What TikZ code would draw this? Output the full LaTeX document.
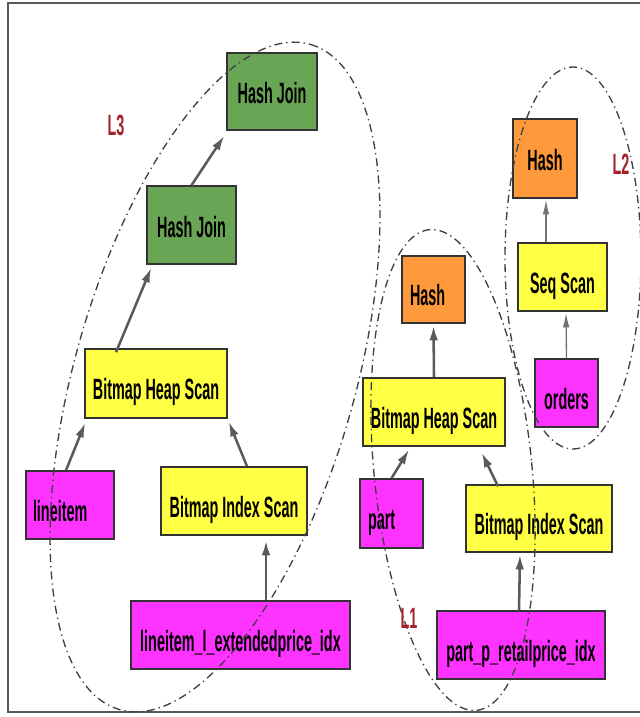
\documentclass[tikz,border=0pt]{standalone}
\usepackage{fontspec}
\setmainfont{Liberation Sans}[FakeStretch=0.49]
\usetikzlibrary{arrows.meta}

\definecolor{joingreen}{HTML}{6AA556}
\definecolor{hashorange}{HTML}{FF9A3C}
\definecolor{scanyellow}{HTML}{FFFF44}
\definecolor{relmagenta}{HTML}{FF33FF}
\definecolor{levelred}{HTML}{A3222A}
\definecolor{arrowgray}{HTML}{5A5A5A}

\begin{document}
\begin{tikzpicture}[x = 0.75pt, y = -0.75pt,
	opbox/.style = {draw = black!80, line width = 1.1pt, inner sep = 0pt,
					text height = 24pt, text depth = 0pt,
					font = \fontsize{22}{24}\selectfont\bfseries},
	joinbox/.style = {opbox, fill = joingreen, text height = 18pt},
	hashbox/.style = {opbox, fill = hashorange},
	scanbox/.style = {opbox, fill = scanyellow},
	relbox/.style = {opbox, fill = relmagenta},
	leftbox/.style = {align = left},
	flow/.style = {arrowgray, line width = 1.9pt,
				   -{Latex[length = 11pt, width = 6.5pt]}},
	thinflow/.style = {black!55, line width = 1pt,
					   -{Latex[length = 11pt, width = 5pt]}},
	level/.style = {black!75, line width = 1pt,
					dash pattern = on 6pt off 3pt on 1pt off 3pt},
	levelname/.style = {levelred, inner sep = 0pt,
						font = \fontsize{22}{24}\selectfont\bfseries},
	frame/.style = {black!65, line width = 1.3pt}]

	\useasboundingbox (0,0) rectangle (639,717);

	\draw[frame] (680,3) -- (8,3) -- (8,712) -- (680,712);

	% left tree (L3)
	\draw (272,91.5) node[joinbox,
						  minimum width = 67.5pt,
						  minimum height = 57.75pt] (hjtop) {Hash Join};

	\draw (191.5,225) node[joinbox,
						   minimum width = 66.75pt,
						   minimum height = 58.5pt] (hjmid) {Hash Join};

	\draw (156,383.5) node[scanbox,
						   minimum width = 106.5pt,
						   minimum height = 51.75pt] (bhsL) {Bitmap Heap Scan};

	\draw (70,505) node[relbox, leftbox,
						text width = 55.5pt,
						inner xsep = 5.25pt,
						minimum height = 51pt] (lineitem) {lineitem};

	\draw (234,501) node[scanbox,
						 minimum width = 109.5pt,
						 minimum height = 51pt] (bisL) {Bitmap Index Scan};

	\draw (240.5,635) node[relbox,
						   minimum width = 164.25pt,
						   minimum height = 51pt] (idxL) {lineitem\_l\_extendedprice\_idx};

	% middle tree (L1)
	\draw (433.5,289.5) node[hashbox, leftbox,
							 text width = 35.25pt,
							 inner xsep = 6pt,
							 minimum height = 50.25pt] (hashR) {Hash};

	\draw (434,412) node[scanbox,
						 minimum width = 106.5pt,
						 minimum height = 51pt] (bhsR) {Bitmap Heap Scan};

	\draw (391.5,513.5) node[relbox, leftbox,
							 text width = 35.25pt,
							 inner xsep = 6pt,
							 minimum height = 51.75pt] (part) {part};

	\draw (539,518.5) node[scanbox,
						   minimum width = 109.5pt,
						   minimum height = 50.25pt] (bisR) {Bitmap Index Scan};

	\draw (521,645) node[relbox,
						 minimum width = 126pt,
						 minimum height = 51pt] (idxR) {part\_p\_retailprice\_idx};

	% right tree (L2)
	\draw (545,158.5) node[hashbox,
						   text height = 18pt,
						   minimum width = 48pt,
						   minimum height = 59.25pt] (hashT) {Hash};

	\draw (562.5,277) node[scanbox,
						   minimum width = 66.75pt,
						   minimum height = 51pt] (seq) {Seq Scan};

	\draw (566.5,393) node[relbox,
						   minimum width = 47.25pt,
						   minimum height = 51pt] (orders) {orders};

	% arrows
	\draw[flow] (hjmid.north) -- ([shift = {(-2,5)}]hjtop.south west);
	\draw[flow] ([shift = {(-40,4)}]bhsL.north) -- ([shift = {(5,3)}]hjmid.south west);
	\draw[flow] ([shift = {(-4,0)}]lineitem.north) -- ([shift = {(1,4)}]bhsL.south west);
	\draw[flow] ([shift = {(13,0)}]bisL.north) -- ([shift = {(1,3)}]bhsL.south east);
	\draw[flow] ([shift = {(25.5,0)}]idxL.north) -- ([shift = {(32,5)}]bisL.south);

	\draw[flow] (bhsR.north) -- ([shift = {(0,2)}]hashR.south);
	\draw[flow] (part.north) -- ([shift = {(-25,3)}]bhsR.south);
	\draw[flow] ([shift = {(-41,2)}]bisR.north) -- ([shift = {(-24,6)}]bhsR.south east);
	\draw[flow] ([shift = {(-2,0)}]idxR.north) -- ([shift = {(-19,2)}]bisR.south);

	\draw[thinflow] ([shift = {(-16.5,0)}]seq.north) -- ([shift = {(1,1)}]hashT.south);
	\draw[thinflow] (orders.north) -- ([shift = {(3.5,1)}]seq.south);

	% level outlines
	\draw[level, rotate around = {74:(215,377)}] (215,377) ellipse [x radius = 346, y radius = 140];
	\draw[level, rotate around = {5.6:(453,470)}] (453,470) ellipse [x radius = 79, y radius = 241.5];
	\draw[level] (573,258) ellipse [x radius = 68, y radius = 191];

	\draw (116,125) node[levelname] (Lthree) {L3};
	\draw (409,618) node[levelname] (Lone) {L1};
	\draw (621,164) node[levelname] (Ltwo) {L2};

\end{tikzpicture}
\end{document}
